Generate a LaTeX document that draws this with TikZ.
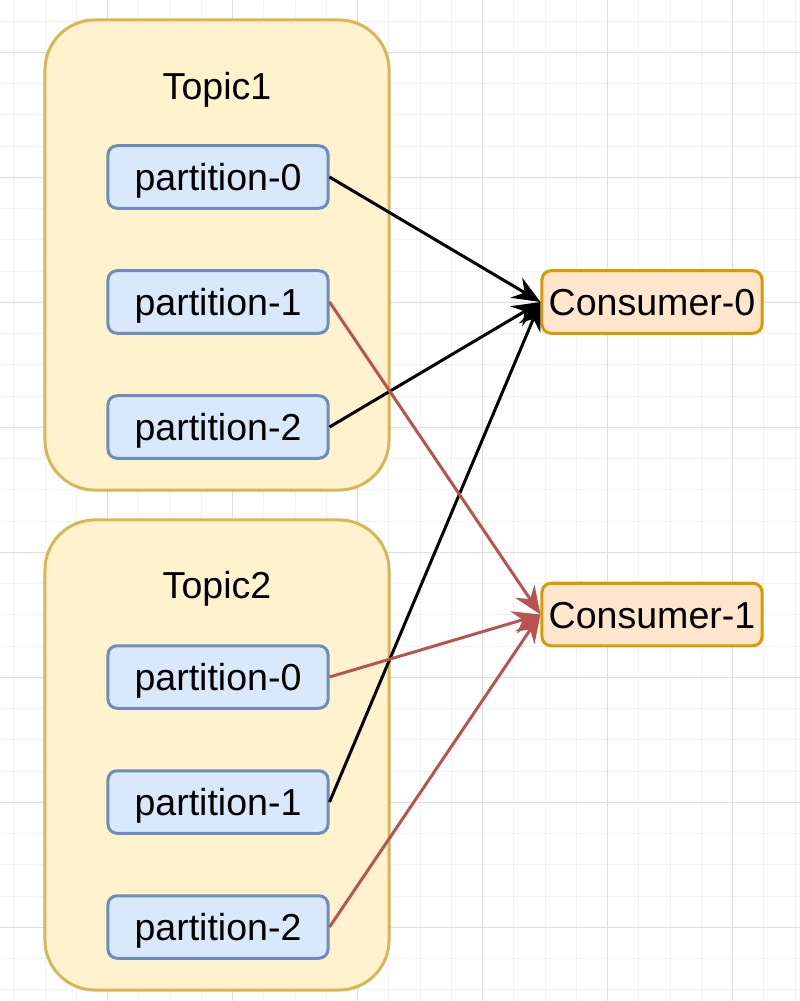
\documentclass[tikz,border=0pt]{standalone}
\usepackage{fontspec}
\setmainfont{Liberation Sans}
\usepackage{xcolor}
\usetikzlibrary{arrows.meta}

\definecolor{topicfill}{HTML}{FFF2CC}
\definecolor{topicline}{HTML}{D6B656}
\definecolor{partfill}{HTML}{DAE8FC}
\definecolor{partline}{HTML}{6C8EBF}
\definecolor{consfill}{HTML}{FFE6CC}
\definecolor{consline}{HTML}{D79B00}
\definecolor{redline}{HTML}{B85450}
\definecolor{gridminor}{HTML}{F2F2F2}
\definecolor{gridmajor}{HTML}{DEDEDE}

\begin{document}
\begin{tikzpicture}[x=0.025cm,y=-0.025cm,font=\fontsize{26.7}{32}\selectfont,
  every node/.append style={text height=25pt,text depth=5.6pt},
  >={Stealth[length=0.7cm,width=0.58cm,inset=0.24cm]}]
\tikzstyle{topic}=[rectangle,rounded corners=1.25cm,draw=topicline,fill=topicfill,line width=0.075cm,minimum width=8.6cm,minimum height=11.75cm,inner sep=0pt]
\tikzstyle{partition}=[rectangle,rounded corners=0.225cm,draw=partline,fill=partfill,line width=0.075cm,minimum width=5.5cm,minimum height=1.5625cm,inner sep=0pt]
\tikzstyle{consumer}=[rectangle,rounded corners=0.225cm,draw=consline,fill=consfill,line width=0.075cm,minimum width=5.5cm,minimum height=1.5625cm,inner sep=0pt]
\tikzstyle{link}=[->,line width=0.075cm]

\useasboundingbox (0,0) rectangle (800,1001);
% background grid
\foreach \x in {0,...,25} \draw[gridminor,line width=0.025cm] (13.75+31.25*\x,0) -- (13.75+31.25*\x,1001);
\foreach \y in {0,...,31} \draw[gridminor,line width=0.025cm] (0,21.05+31.25*\y) -- (800,21.05+31.25*\y);
\foreach \x in {0,...,5} \draw[gridmajor,line width=0.025cm] (107.5+125*\x,0) -- (107.5+125*\x,1001);
\foreach \y in {0,...,7} \draw[gridmajor,line width=0.025cm] (0,52.3+125*\y) -- (800,52.3+125*\y);

\node[topic](Topic1) at (217,255){};
\node(Topic1Title) at (217,86){Topic1};
\node[partition](T1P0) at (218,177){partition-0};
\node[partition](T1P1) at (218,302){partition-1};
\node[partition](T1P2) at (218,427){partition-2};

\node[topic](Topic2) at (217,755){};
\node(Topic2Title) at (217,585){Topic2};
\node[partition](T2P0) at (218,677){partition-0};
\node[partition](T2P1) at (218,802){partition-1};
\node[partition](T2P2) at (218,927){partition-2};

\node[consumer](Consumer0) at (652,302){Consumer-0};
\node[consumer](Consumer1) at (652,614.5){Consumer-1};

\draw[link] (T1P0.east) -- (Consumer0.west);
\draw[link] (T1P2.east) -- (Consumer0.west);
\draw[link] (T2P1.east) -- (Consumer0.west);
\draw[link,redline] (T1P1.east) -- (Consumer1.west);
\draw[link,redline] (T2P0.east) -- (Consumer1.west);
\draw[link,redline] (T2P2.east) -- (Consumer1.west);

\end{tikzpicture}
\end{document}
